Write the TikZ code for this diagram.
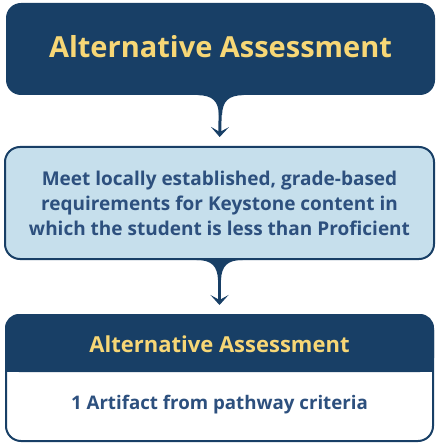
\documentclass[tikz,border=0pt]{standalone}
\usepackage{fontspec}
\setmainfont{Open Sans}[Ligatures={NoCommon}]
\usepackage{tikz}
\usetikzlibrary{arrows.meta,positioning}

\definecolor{navy}{RGB}{24,63,102}
\definecolor{gold}{RGB}{247,215,118}
\definecolor{paleblue}{RGB}{198,223,236}
\definecolor{inknavy}{RGB}{45,80,126}

\begin{document}
\begin{tikzpicture}[x=1pt, y=1pt,
        every node/.style={align=center, font=\bfseries},
        titlebox/.style={fill=navy, rounded corners=15pt, minimum width=429pt, minimum height=92pt, text=gold, font=\bfseries\fontsize{29}{32}\selectfont},
        stepbox/.style={draw=navy, line width=2pt, fill=paleblue, rounded corners=15pt, minimum width=429pt, minimum height=112pt, text=inknavy, font=\bfseries\fontsize{19}{25}\selectfont},
        cardbox/.style={draw=navy, line width=2pt, fill=white, rounded corners=15pt, minimum width=427pt, minimum height=126pt},
        flow/.style={draw=navy, line width=3pt, -{Stealth[length=10pt, width=18pt, inset=5pt]}, shorten >=9pt}
    ]

    \useasboundingbox (0,0) rectangle (436,-443);

    % Nodes
    \node[titlebox] (top) at (220.5,-49) {\raisebox{5pt}{Alternative Assessment}};
    \node[stepbox] (mid) at (219.5,-203) {Meet locally established, grade-based\\
        requirements for Keystone content in\\
        which the student is less than Proficient};
    \node[cardbox] (card) at (219.5,-378) {};

    % card header
    \fill[navy, rounded corners=14pt] (card.north west) rectangle ([yshift=-58pt]card.north east);
    \fill[navy] ([yshift=-30pt]card.north west) rectangle ([yshift=-58pt]card.north east);
    \node[text=gold, font=\bfseries\fontsize{22}{26}\selectfont] (cardtitle) at ([yshift=-30pt]card.north) {Alternative Assessment};
    \node[text=inknavy, font=\bfseries\fontsize{18.7}{22}\selectfont] (artifact) at ([yshift=-91pt]card.north) {1 Artifact from pathway criteria};

    % Edges
    \foreach \a/\b in {top/mid, mid/card} {
        \fill[navy] ([xshift=-23pt]\a.south) .. controls ([xshift=-8pt]\a.south) and ([xshift=-2pt,yshift=-6pt]\a.south) .. ([xshift=-1.5pt,yshift=-20pt]\a.south)
            -- ([xshift=1.5pt,yshift=-20pt]\a.south) .. controls ([xshift=2pt,yshift=-6pt]\a.south) and ([xshift=8pt]\a.south) .. ([xshift=23pt]\a.south) -- cycle;
        \draw[flow] (\a.south) -- (\b.north);
    }

\end{tikzpicture}
\end{document}
